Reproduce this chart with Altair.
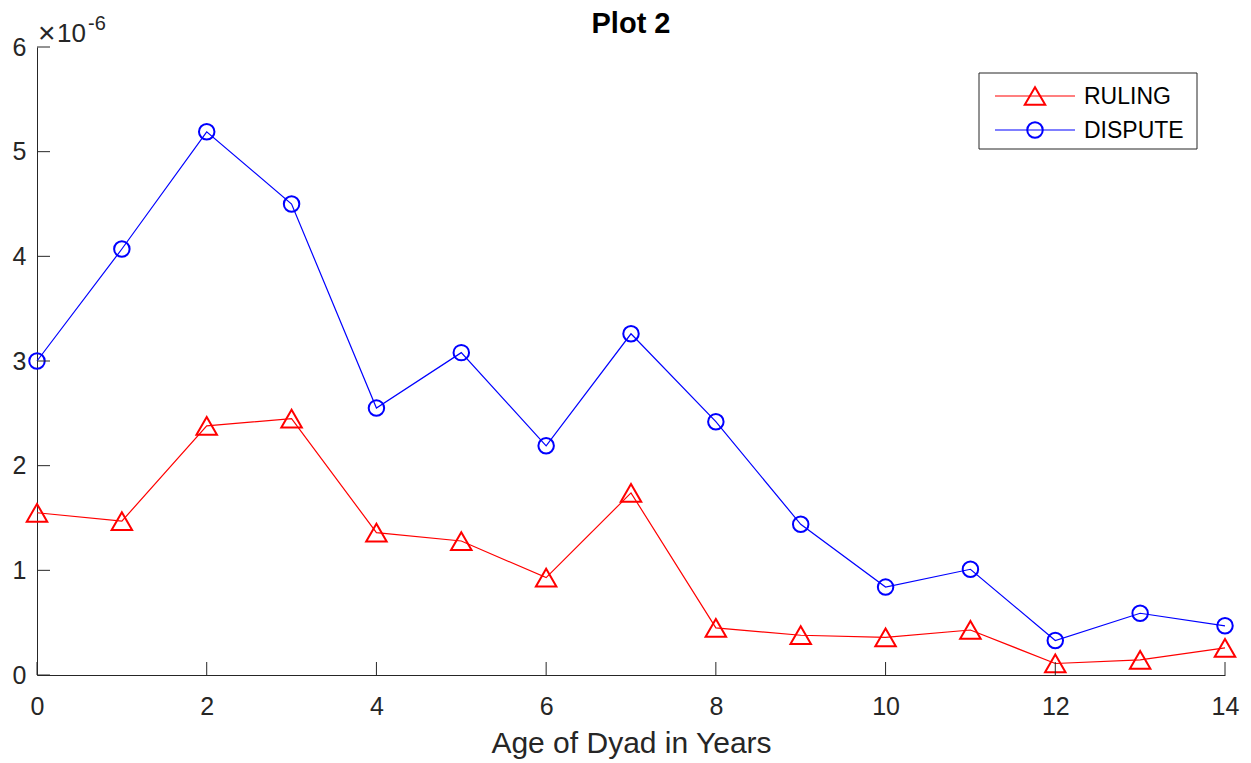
import altair as alt
import pandas as pd

# ---- data (values in units of 1, displayed as x10^-6) ----
age = list(range(15))
ruling = [1.55, 1.47, 2.38, 2.45, 1.36, 1.28, 0.93, 1.74, 0.45, 0.38, 0.36, 0.43, 0.11, 0.145, 0.26]
dispute = [3.00, 4.07, 5.19, 4.50, 2.55, 3.08, 2.19, 3.26, 2.42, 1.44, 0.84, 1.01, 0.33, 0.59, 0.47]
x_ticks = [0, 2, 4, 6, 8, 10, 12, 14]
y_ticks = [0, 1, 2, 3, 4, 5, 6]
scale_exp = 1e-6

W, H = 1188, 628
FONT = "Liberation Sans"
AX = "#262626"
RED = "#FF0000"
BLUE = "#0000FF"

df_r = pd.DataFrame({"age": age, "val": [v * scale_exp for v in ruling]})
df_d = pd.DataFrame({"age": age, "val": [v * scale_exp for v in dispute]})
df_xt = pd.DataFrame({"t": x_ticks})
df_yt = pd.DataFrame({"t": [v * scale_exp for v in y_ticks]})
one = pd.DataFrame({"k": [0]})

xs = alt.Scale(domain=[0, 14], nice=False, zero=False)
ys = alt.Scale(domain=[0, 6e-6], nice=False, zero=False)

x_axis = alt.Axis(values=x_ticks, format="d", title="Age of Dyad in Years", grid=False, ticks=False,
                  labelFontSize=25, labelFont=FONT, labelColor=AX, labelPadding=19,
                  titleFontSize=30, titleFont=FONT, titleFontWeight="normal", titleColor=AX,
                  titlePadding=9, domainColor=AX, domainWidth=1, labelFlush=False)
y_axis = alt.Axis(values=[v * scale_exp for v in y_ticks], title=None, grid=False, ticks=False,
                  labelExpr="round(datum.value * 1000000)",
                  labelFontSize=25, labelFont=FONT, labelColor=AX, labelPadding=11,
                  domainColor=AX, domainWidth=1, labelFlush=False)

base_r = alt.Chart(df_r)
base_d = alt.Chart(df_d)

line_r = base_r.mark_line(color=RED, strokeWidth=1.2).encode(
    x=alt.X("age:Q", scale=xs, axis=x_axis),
    y=alt.Y("val:Q", scale=ys, axis=y_axis))
pts_r = base_r.mark_point(shape="triangle-up", filled=False, color=RED, size=420, strokeWidth=2, opacity=1).encode(
    x=alt.X("age:Q", scale=xs), y=alt.Y("val:Q", scale=ys))
line_d = base_d.mark_line(color=BLUE, strokeWidth=1.2).encode(
    x=alt.X("age:Q", scale=xs), y=alt.Y("val:Q", scale=ys))
pts_d = base_d.mark_point(shape="circle", filled=False, color=BLUE, size=240, strokeWidth=2, opacity=1).encode(
    x=alt.X("age:Q", scale=xs), y=alt.Y("val:Q", scale=ys))

# inward ticks
xt = alt.Chart(df_xt).mark_rule(color=AX, strokeWidth=1).encode(
    x=alt.X("t:Q", scale=xs), y=alt.value(H), y2=alt.value(H - 13))
yt = alt.Chart(df_yt).mark_rule(color=AX, strokeWidth=1).encode(
    y=alt.Y("t:Q", scale=ys), x=alt.value(0), x2=alt.value(13))

# title
title = alt.Chart(one).mark_text(text="Plot 2", font=FONT, fontSize=29, fontWeight="bold", color="black",
                                 align="center", baseline="alphabetic").encode(
    x=alt.value(W / 2), y=alt.value(-14))

# exponent label
exp_x = alt.Chart(one).mark_text(text="×", font=FONT, fontSize=30, color=AX, align="left", baseline="alphabetic").encode(
    x=alt.value(1), y=alt.value(-4))
exp_10 = alt.Chart(one).mark_text(text="10", font=FONT, fontSize=26, color=AX, align="left", baseline="alphabetic").encode(
    x=alt.value(20), y=alt.value(-5))
exp_p = alt.Chart(one).mark_text(text="-6", font=FONT, fontSize=20, color=AX, align="left", baseline="alphabetic").encode(
    x=alt.value(51), y=alt.value(-17))

# legend
lx0, lx1, ly0, ly1 = 942, 1160, 26, 102
leg_box = alt.Chart(one).mark_rect(fill="white", stroke=AX, strokeWidth=1).encode(
    x=alt.value(lx0), x2=alt.value(lx1), y=alt.value(ly0), y2=alt.value(ly1))
leg_layers = [leg_box]
for yy, col, shape, size, label in [(49, RED, "triangle-up", 420, "RULING"), (83, BLUE, "circle", 240, "DISPUTE")]:
    leg_layers.append(alt.Chart(one).mark_rule(color=col, strokeWidth=1.2).encode(
        x=alt.value(958), x2=alt.value(1038), y=alt.value(yy)))
    leg_layers.append(alt.Chart(one).mark_point(shape=shape, filled=False, color=col, size=size, strokeWidth=2, opacity=1).encode(
        x=alt.value(998), y=alt.value(yy)))
    leg_layers.append(alt.Chart(one).mark_text(text=label, font=FONT, fontSize=23, color="black", align="left", baseline="middle").encode(
        x=alt.value(1047), y=alt.value(yy + 1)))

chart = alt.layer(line_r, line_d, pts_r, pts_d, xt, yt, title, exp_x, exp_10, exp_p, *leg_layers).properties(
    width=W, height=H,
    background="white",
    autosize=alt.AutoSizeParams(type="none"),
    padding={"left": 29, "top": 39, "right": 18, "bottom": 88},
).configure_view(strokeWidth=0, stroke="transparent")

chart.save("out.html", embed_options={"renderer": "svg", "actions": False})
